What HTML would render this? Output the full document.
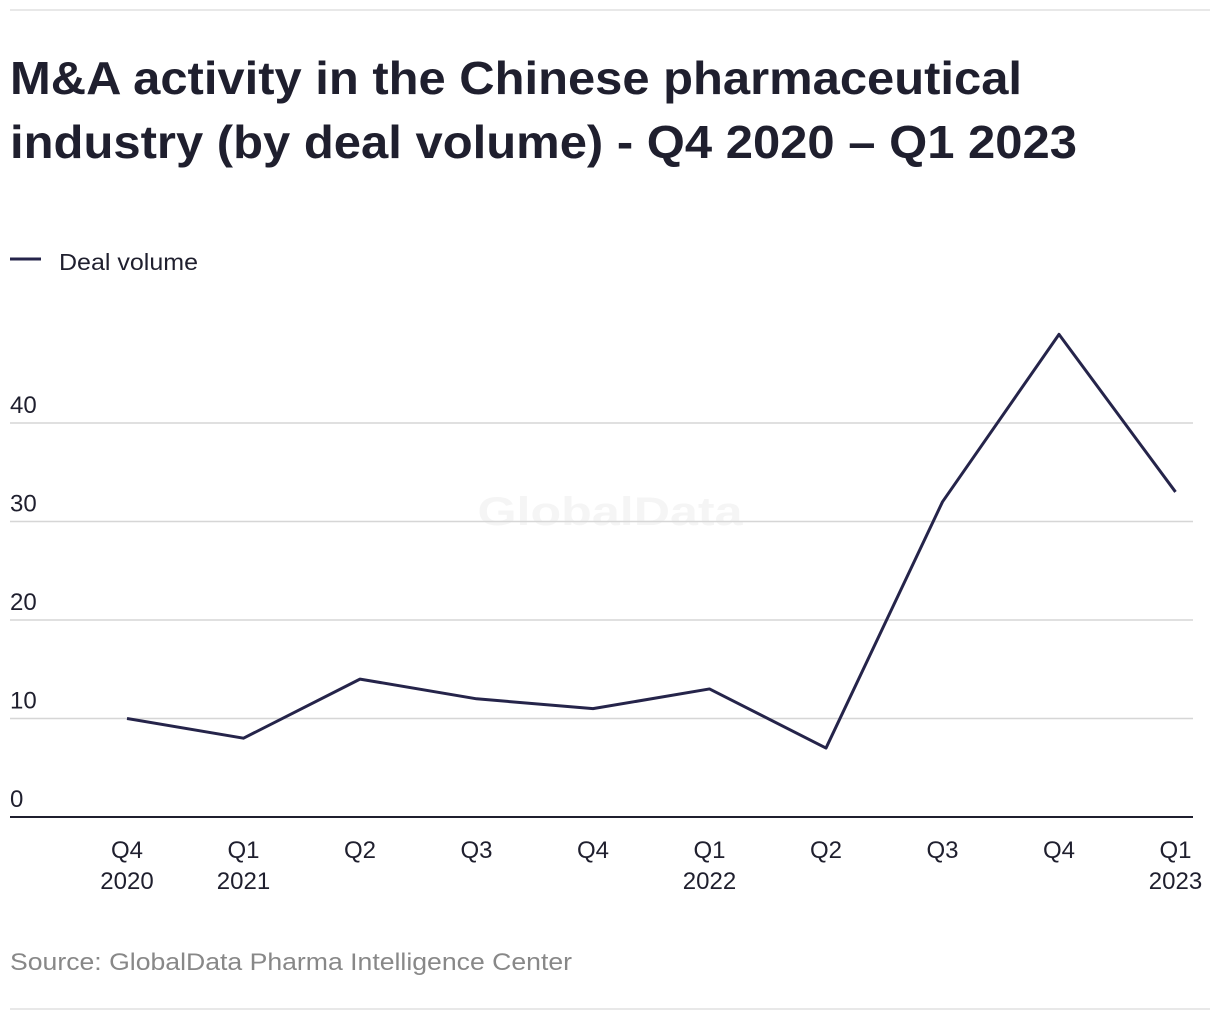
<!DOCTYPE html>
<html><head><meta charset="utf-8"><style>
body{margin:0;background:#fff;width:1220px;height:1020px;overflow:hidden;font-family:"Liberation Sans",sans-serif;color:#1f1f2e}
</style></head><body>
<svg width="1220" height="1020">
<line x1="10" y1="10" x2="1210" y2="10" stroke="#d0d0d0"/>
<line x1="10" y1="1009" x2="1210" y2="1009" stroke="#d0d0d0"/>
<text x="10" y="94" font-size="46" font-weight="bold" fill="#1f1f2e" textLength="1012" lengthAdjust="spacingAndGlyphs">M&amp;A activity in the Chinese pharmaceutical</text>
<text x="10" y="158" font-size="46" font-weight="bold" fill="#1f1f2e" textLength="1067" lengthAdjust="spacingAndGlyphs">industry (by deal volume) - Q4 2020 – Q1 2023</text>
<line x1="10" y1="259" x2="41" y2="259" stroke="#25244a" stroke-width="3"/>
<text x="59" y="270" font-size="23" fill="#1f1f2e" textLength="139" lengthAdjust="spacingAndGlyphs">Deal volume</text>
<text x="610" y="525" font-size="40" font-weight="bold" fill="#f5f5f5" text-anchor="middle" textLength="265" lengthAdjust="spacingAndGlyphs">GlobalData</text>
<g id="grid"></g><g id="xl"></g>
<polyline id="line" fill="none" stroke="#25244a" stroke-width="3" stroke-linejoin="round"/>
<text x="10" y="970" font-size="24" fill="#888" textLength="562" lengthAdjust="spacingAndGlyphs">Source: GlobalData Pharma Intelligence Center</text>
</svg>
<script>
const categories=["Q4|2020","Q1|2021","Q2","Q3","Q4","Q1|2022","Q2","Q3","Q4","Q1|2023"];
const dealVolume=[10,8,14,12,11,13,7,32,49,33];
const yTicks=[0,10,20,30,40];
const ns="http://www.w3.org/2000/svg";
const y=v=>817-v*9.85;
const x=i=>127+i*116.5;
const grid=document.getElementById('grid'),xl=document.getElementById('xl');
yTicks.forEach(t=>{
 const l=document.createElementNS(ns,'line');
 l.setAttribute('x1',10);l.setAttribute('x2',1193);l.setAttribute('y1',y(t));l.setAttribute('y2',y(t));
 l.setAttribute('stroke',t===0?'#1f1f2e':'#d6d6d6');l.setAttribute('stroke-width',t===0?2:1.5);
 
 
 grid.appendChild(l);
 const tx=document.createElementNS(ns,'text');
 tx.setAttribute('x',10);tx.setAttribute('y',y(t)-10);tx.setAttribute('font-size',24);tx.setAttribute('fill','#1f1f2e');
 tx.textContent=t;
 
 
 grid.appendChild(tx);
});
categories.forEach((c,i)=>{
 c.split('|').forEach((p,j)=>{
  const tx=document.createElementNS(ns,'text');
  tx.setAttribute('x',x(i));tx.setAttribute('y',858+j*31);tx.setAttribute('font-size',24);tx.setAttribute('text-anchor','middle');tx.setAttribute('fill','#1f1f2e');
  tx.textContent=p;
  
  
  xl.appendChild(tx);
 });
});
document.getElementById('line').setAttribute('points',dealVolume.map((v,i)=>x(i)+','+y(v)).join(' '));
</script>
</body></html>
